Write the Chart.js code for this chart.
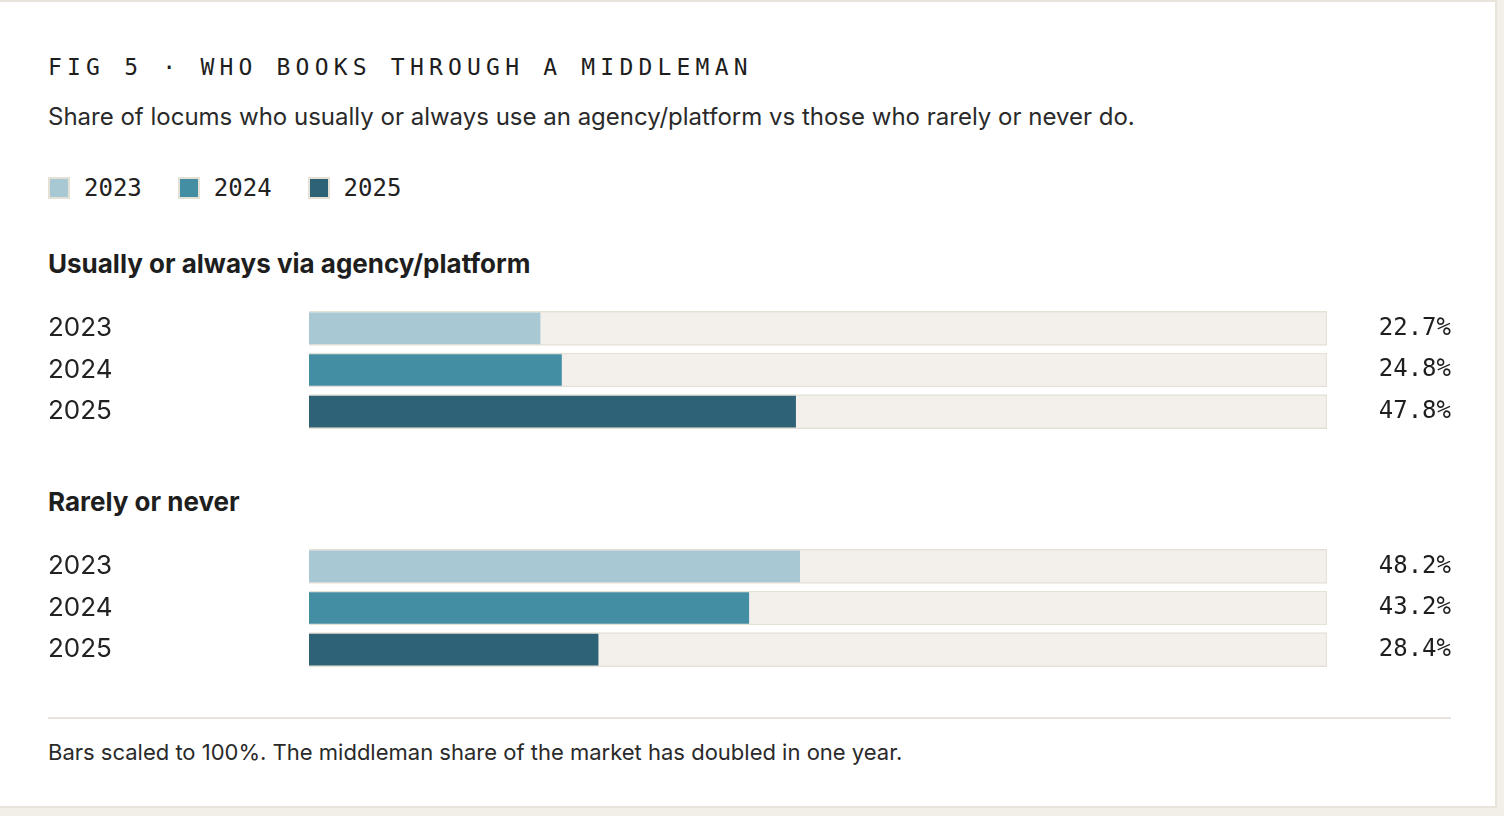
<!DOCTYPE html>
<html><head><meta charset="utf-8">
<script src="https://cdn.jsdelivr.net/npm/chart.js@4"></script>
<style>
html,body{margin:0;padding:0;background:#f2efe9;width:1504px;height:816px;overflow:hidden;font-family:Inter,"Noto Sans",sans-serif;color:#222;}
#card{position:absolute;left:-3px;top:0;width:1500px;height:808px;background:#fff;border:2px solid #e8e4dc;box-sizing:border-box;}
.abs{position:absolute;white-space:nowrap;}
#title{left:48px;top:54px;font-family:"DejaVu Sans Mono",monospace;font-size:23px;letter-spacing:5.2px;color:#1e1e1e;}
#sub{left:48px;top:102px;font-size:24px;color:#2a2a2a;}
#legend{left:48px;top:174px;font-family:"DejaVu Sans Mono",monospace;font-size:24px;display:flex;gap:0;}
.li{display:flex;align-items:center;margin-right:36px;}
.sw{width:22px;height:22px;border:2px solid #e6e1d7;margin-right:14px;box-sizing:border-box;}
.h{left:48px;font-size:26px;font-weight:700;color:#1e1e1e;}
canvas{position:absolute;left:0;}
#rule{left:48px;top:717px;width:1403px;height:2px;background:#e8e4dc;}
#foot{left:48px;top:739px;font-size:22px;color:#2a2a2a;}
</style></head><body>
<div id="card"></div>
<div class="abs" id="title">FIG 5 · WHO BOOKS THROUGH A MIDDLEMAN</div>
<div class="abs" id="sub">Share of locums who usually or always use an agency/platform vs those who rarely or never do.</div>
<div class="abs" id="legend"></div>
<div class="abs h" style="top:248px">Usually or always via agency/platform</div>
<div class="abs h" style="top:486px">Rarely or never</div>
<div style="position:absolute;left:0;top:292px;width:1504px;height:156px"><canvas id="c1"></canvas></div>
<div style="position:absolute;left:0;top:530px;width:1504px;height:156px"><canvas id="c2"></canvas></div>
<div class="abs" id="rule"></div>
<div class="abs" id="foot">Bars scaled to 100%. The middleman share of the market has doubled in one year.</div>
<script>
const years = ["2023","2024","2025"];
const viaAgency = [22.7, 24.8, 47.8];
const rarelyNever = [48.2, 43.2, 28.4];
const colors = ["#a8c9d3","#448ea3","#2e6277"];
const lg=document.getElementById('legend');
years.forEach((y,i)=>{lg.innerHTML+=`<div class="li"><div class="sw" style="background:${colors[i]}"></div>${y}</div>`;});
const valPlugin={id:'vals',afterDatasetsDraw(ch){const c=ch.ctx;const d=ch.data.datasets[1].data;const m=ch.getDatasetMeta(1);c.save();c.font='24px "DejaVu Sans Mono", monospace';c.fillStyle='#1e1e1e';c.textAlign='right';c.textBaseline='middle';m.data.forEach((b,i)=>c.fillText(d[i].toFixed(1)+'%',1451,b.y));c.restore();}};
function make(id,vals){
 new Chart(document.getElementById(id),{type:'bar',
  data:{labels:years,datasets:[
   {data:vals.map(()=>100),backgroundColor:'#f3f0eb',borderColor:'#e6e1d6',borderWidth:1.5,borderSkipped:false,barThickness:34,grouped:false,order:2},
   {data:vals,backgroundColor:colors,borderWidth:0,barThickness:31,grouped:false,order:1}]},
  options:{indexAxis:'y',responsive:true,maintainAspectRatio:false,animation:false,
   layout:{padding:{left:48,right:177,top:0,bottom:0}},
   plugins:{legend:{display:false},tooltip:{enabled:false}},
   scales:{x:{display:false,min:0,max:100},
    y:{grid:{display:false},border:{display:false},afterFit(s){s.width=261;},
     ticks:{crossAlign:'far',padding:0,color:'#222',font:{family:'Inter, "Noto Sans", sans-serif',size:26}}}}},
  plugins:[valPlugin]});
}
make('c1',viaAgency);make('c2',rarelyNever);
</script></body></html>
